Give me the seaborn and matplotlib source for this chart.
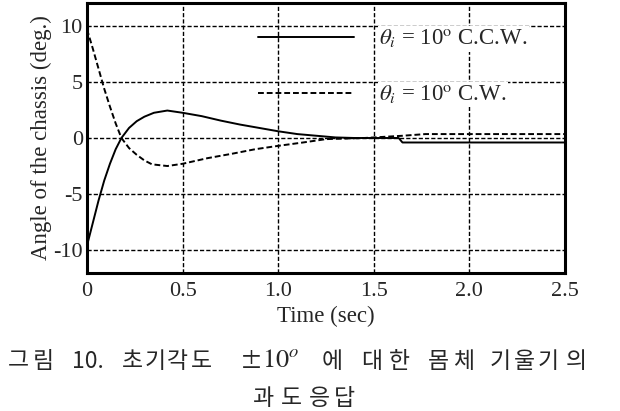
import matplotlib
matplotlib.use("Agg")
import matplotlib.pyplot as plt
import seaborn as sns
import pandas as pd

# C.C.W. response (solid)
t_ccw = [0, 0.03, 0.06, 0.09, 0.12, 0.15, 0.18, 0.22, 0.26, 0.30, 0.35, 0.42, 0.50,
         0.60, 0.70, 0.80, 0.90, 1.00, 1.10, 1.20, 1.30, 1.40, 1.50, 1.63, 1.65, 2.50]
a_ccw = [-9.6, -7.6, -5.6, -3.8, -2.3, -1.0, 0.0, 0.9, 1.5, 1.9, 2.25, 2.45, 2.25,
         1.95, 1.55, 1.2, 0.9, 0.6, 0.35, 0.2, 0.05, 0.0, 0.0, 0.0, -0.4, -0.4]

# C.W. response (dashed)
t_cw = [0, 0.03, 0.06, 0.09, 0.12, 0.15, 0.18, 0.22, 0.26, 0.30, 0.34, 0.42, 0.50,
        0.63, 0.76, 0.88, 1.00, 1.13, 1.25, 1.35, 1.45, 1.55, 1.65, 1.77, 2.50]
a_cw = [9.7, 8.0, 6.2, 4.4, 2.8, 1.3, 0.0, -0.9, -1.5, -2.0, -2.35, -2.5, -2.3,
        -1.8, -1.4, -1.0, -0.7, -0.4, -0.1, -0.05, 0.0, 0.1, 0.2, 0.35, 0.35]

lbl_ccw = r"$\theta_i$ = 10$^{\rm o}$ C.C.W."
lbl_cw = r"$\theta_i$ = 10$^{\rm o}$ C.W."

# caption, split into glyphs (spread out like the justified original)
cap1 = ["그", "림", "10.", "초", "기", "각", "도", "±",
        "에", "대", "한", "몸", "체", "기", "울", "기", "의"]
cap1_x = [18, 43, 88, 132, 155, 178, 201, 251,
          332, 372, 399, 438, 464, 500, 524, 548, 576]
cap2 = ["과", "도", "응", "답"]
cap2_x = [264, 291, 319, 344]

df_ccw = pd.DataFrame({"t": t_ccw, "a": a_ccw})
df_cw = pd.DataFrame({"t": t_cw, "a": a_cw})

sns.set_style("white")
plt.rcParams["font.family"] = ["Liberation Serif", "DejaVu Serif"]
plt.rcParams["mathtext.fontset"] = "stix"
plt.rcParams["axes.unicode_minus"] = False

W, H = 620, 411
fig = plt.figure(figsize=(6.2, 4.11), dpi=100)
ax = fig.add_axes([87 / W, 1 - 272.5 / H, (565 - 87) / W, (272.5 - 3.5) / H])

sns.lineplot(data=df_ccw, x="t", y="a", ax=ax, color="black", linewidth=1.4,
             label=lbl_ccw)
sns.lineplot(data=df_cw, x="t", y="a", ax=ax, color="black", linewidth=1.4,
             linestyle=(0, (3, 1.5)), label=lbl_cw)

ax.set_xlim(0, 2.5)
ax.set_ylim(-12, 12)
ax.set_xticks([0, 0.5, 1.0, 1.5, 2.0, 2.5])
ax.set_xticklabels(["0", "0.5", "1.0", "1.5", "2.0", "2.5"])
ax.set_yticks([-10, -5, 0, 5, 10])
ax.set_yticklabels(["-10", "-5", "0", "5", "10"])
ax.tick_params(length=0, labelsize=16)
ax.tick_params(axis="x", pad=6.5)
ax.tick_params(axis="y", pad=3)
ax.grid(True, color="black", linestyle=(0, (3, 1.5)), linewidth=1.0)
for s in ax.spines.values():
    s.set_linewidth(2.2)
    s.set_color("black")

ax.set_xlabel("Time (sec)", fontsize=16.5, labelpad=4)
ax.set_ylabel("Angle of the chassis (deg.)", fontsize=16.5, labelpad=1)

leg = ax.legend(loc="upper left", bbox_to_anchor=(0.357, 0.911), frameon=False,
                fontsize=16.5, handlelength=4.2, handletextpad=1.1,
                labelspacing=1.44, borderpad=0, borderaxespad=0)
for txt in leg.get_texts():
    txt.set_bbox(dict(facecolor="white", edgecolor="none", pad=1))

kfont = ["Noto Sans CJK KR", "DejaVu Sans"]
for s, x in zip(cap1, cap1_x):
    fig.text(x / W, 1 - 361 / H, s, ha="center", va="center", fontsize=16.5,
             family=kfont)
# the "10^o" of the caption is set in the serif face
fig.text(262 / W, 1 - 361 / H, r"$10^o$", ha="left", va="center", fontsize=19)
for s, x in zip(cap2, cap2_x):
    fig.text(x / W, 1 - 398 / H, s, ha="center", va="center", fontsize=16.5,
             family=kfont)

fig.savefig("out.png", dpi=100)
